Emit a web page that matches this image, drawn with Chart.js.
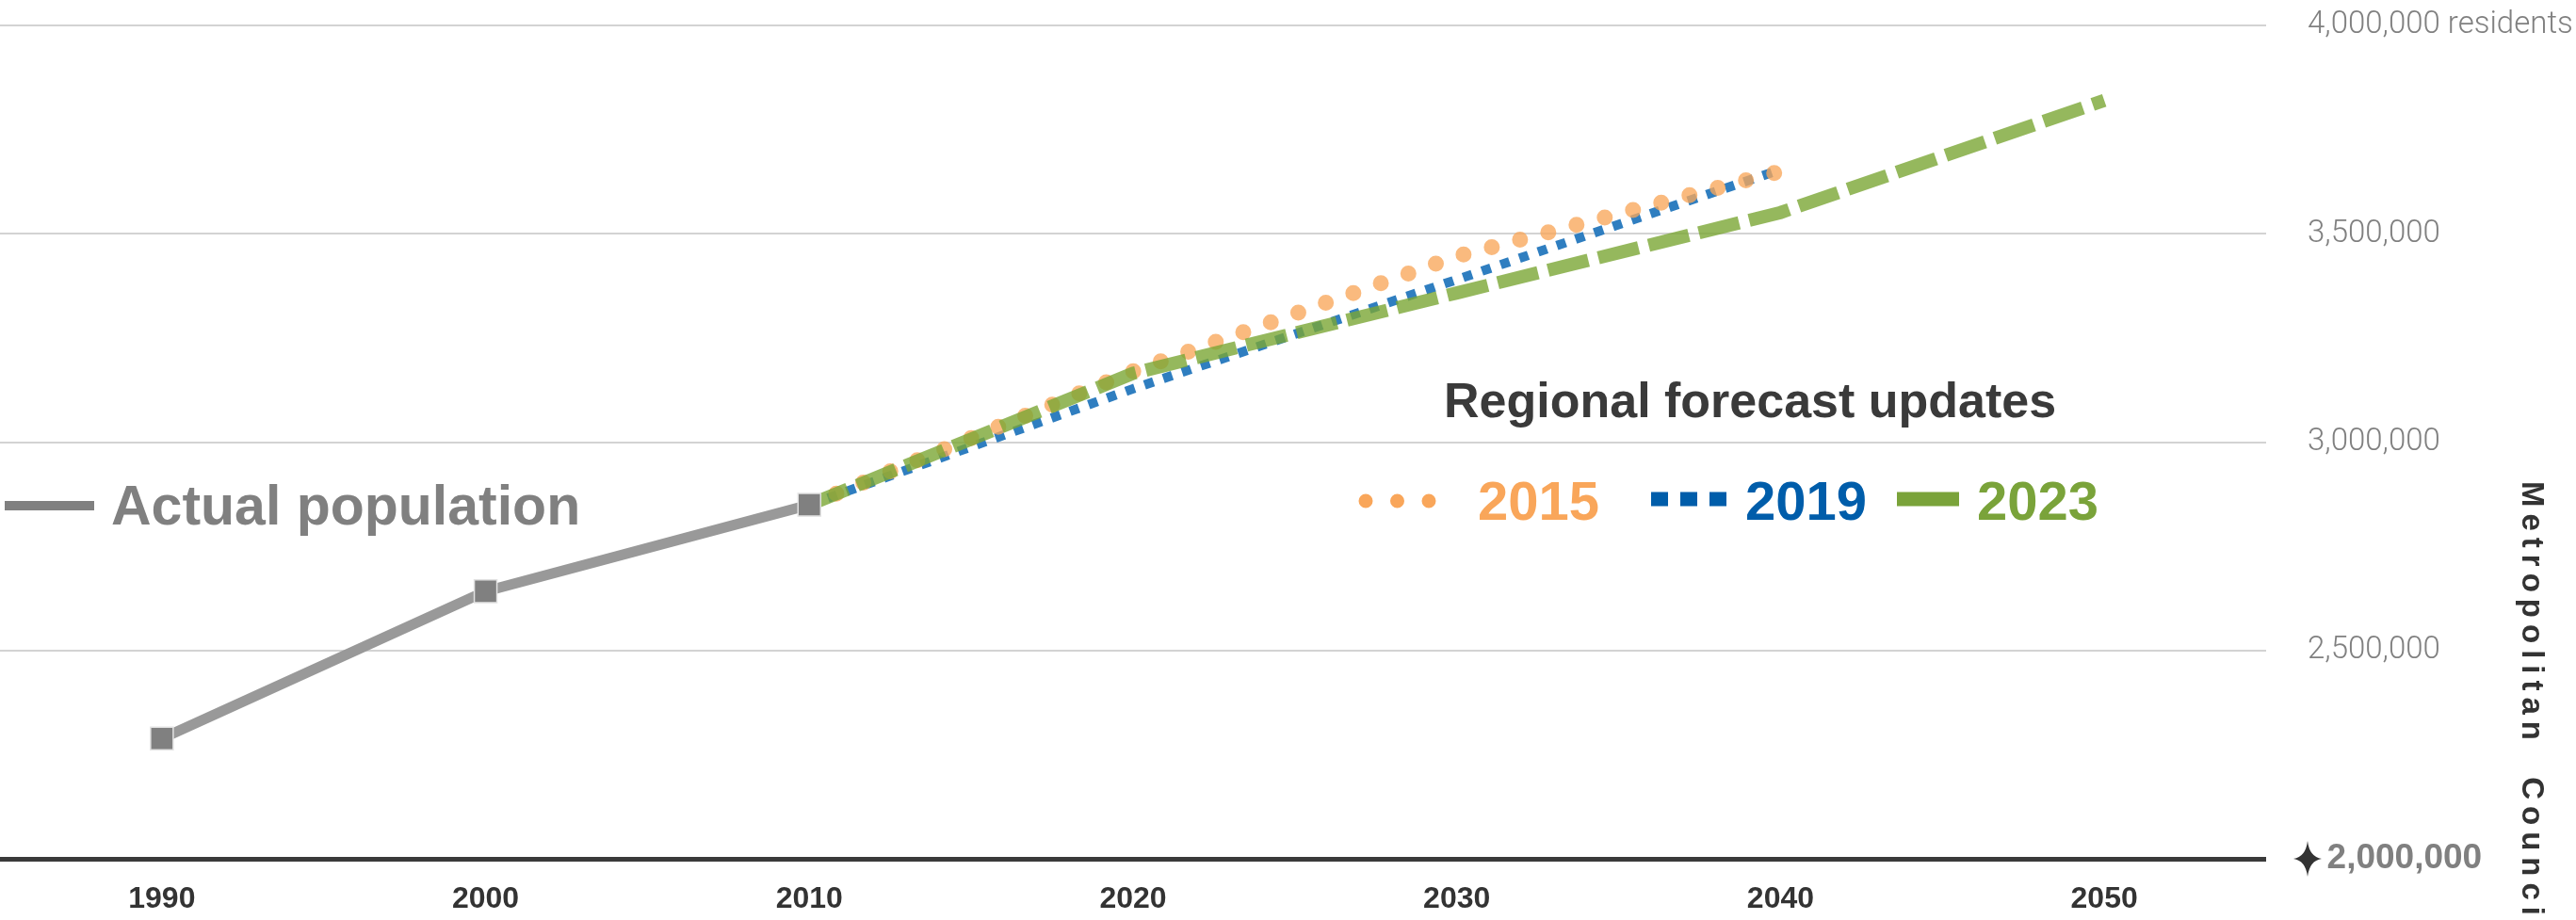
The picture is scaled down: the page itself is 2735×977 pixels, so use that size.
<!DOCTYPE html>
<html>
<head>
<meta charset="utf-8">
<title>Regional population forecasts</title>
<script src="https://cdn.jsdelivr.net/npm/chart.js@4.4.1/dist/chart.umd.min.js"></script>
<style>
  html, body { margin: 0; padding: 0; background: #fff; }
  #wrap { width: 2735px; height: 977px; }
</style>
</head>
<body>
<div id="wrap"><canvas id="popChart" width="2735" height="977"></canvas></div>
<script>
// actual population, 7-county region
const actualYears = [1990, 2000, 2010];
const actualPop = [2288721, 2642056, 2849567];

// forecasts, by the year the forecast was made
const forecastYears = [2010, 2020, 2030, 2040];
const forecast2015 = [2849567, 3170000, 3446000, 3650000];
const forecast2019 = [2849567, 3128000, 3390000, 3654000];
const forecast2023Years = [2010, 2020, 2030, 2040, 2050];
const forecast2023 = [2849567, 3165000, 3358000, 3551000, 3820000];

const forecastNames = ['2015', '2019', '2023'];
const xTicks = [1990, 2000, 2010, 2020, 2030, 2040, 2050];
const yTicks = [2000000, 2500000, 3000000, 3500000, 4000000];

const SANS = '"Liberation Sans", Arial, sans-serif';
const LIGHT = 'Roboto, "Liberation Sans", sans-serif';

const toPoints = (xs, ys) => xs.map((x, i) => ({ x: x, y: ys[i] }));

function sample(ctx, x1, x2, y, color, width, dash, cap) {
    ctx.beginPath();
    ctx.strokeStyle = color;
    ctx.lineWidth = width;
    ctx.setLineDash(dash);
    ctx.lineCap = cap;
    ctx.moveTo(x1, y);
    ctx.lineTo(x2, y);
    ctx.stroke();
}

// legends, headings, the star on the base line and the side credit
const overlay = {
    id: 'overlay',
    afterDraw(chart) {
        const ctx = chart.ctx;
        const yScale = chart.scales.y;
        ctx.save();

        // star in front of the 2,000,000 label
        const sx = yScale.left + 44;
        const sy = yScale.getPixelForValue(yTicks[0]);
        ctx.fillStyle = '#333';
        ctx.beginPath();
        ctx.moveTo(sx, sy - 19);
        ctx.quadraticCurveTo(sx + 2, sy - 2, sx + 15, sy);
        ctx.quadraticCurveTo(sx + 2, sy + 2, sx, sy + 19);
        ctx.quadraticCurveTo(sx - 2, sy + 2, sx - 15, sy);
        ctx.quadraticCurveTo(sx - 2, sy - 2, sx, sy - 19);
        ctx.fill();

        // actual population legend
        sample(ctx, 5, 100, 537, '#808080', 10, [], 'butt');
        ctx.setLineDash([]);
        ctx.font = 'bold 59px ' + SANS;
        ctx.fillStyle = '#808080';
        ctx.textBaseline = 'alphabetic';
        ctx.textAlign = 'left';
        ctx.fillText('Actual population', 118, 557);

        // forecast legend
        ctx.font = 'bold 52px ' + SANS;
        ctx.fillStyle = '#3a3a3a';
        ctx.fillText('Regional forecast updates', 1533, 443);

        sample(ctx, 1450, 1518, 532, '#F9A65A', 15, [0, 33.5], 'round');
        sample(ctx, 1753, 1833, 530, '#005DAA', 15, [18, 13], 'butt');
        sample(ctx, 2014, 2080, 530, '#7AA33A', 15, [], 'butt');
        ctx.setLineDash([]);
        ctx.font = 'bold 58px ' + SANS;
        ctx.fillStyle = '#F9A65A';
        ctx.fillText(forecastNames[0], 1569, 552);
        ctx.fillStyle = '#005DAA';
        ctx.fillText(forecastNames[1], 1853, 552);
        ctx.fillStyle = '#7AA33A';
        ctx.fillText(forecastNames[2], 2099, 552);

        // side credit
        ctx.translate(2678, 511);
        ctx.rotate(Math.PI / 2);
        ctx.font = 'bold 33px ' + SANS;
        ctx.fillStyle = '#333';
        ctx.letterSpacing = '7px';
        ctx.wordSpacing = '16px';
        ctx.fillText('Metropolitan Council', 0, 0);
        ctx.restore();
    }
};

const isBase = c => c.tick && c.tick.value === yTicks[0];

new Chart(document.getElementById('popChart').getContext('2d'), {
    type: 'line',
    data: {
        datasets: [
            {
                label: 'Actual population',
                data: toPoints(actualYears, actualPop),
                borderColor: '#999999',
                borderWidth: 11,
                pointStyle: 'rect',
                pointRadius: 17,
                pointBackgroundColor: '#808080',
                pointBorderColor: '#e2e2e2',
                pointBorderWidth: 1.5,
            },
            {
                label: forecastNames[2],
                data: toPoints(forecast2023Years, forecast2023),
                borderColor: 'rgba(122, 166, 53, 0.8)',
                borderWidth: 14,
                borderDash: [44, 11],
                pointRadius: 0,
            },
            {
                label: forecastNames[0],
                data: toPoints(forecastYears, forecast2015),
                borderColor: 'rgba(249, 166, 90, 0.78)',
                borderWidth: 17,
                borderDash: [0, 31],
                borderCapStyle: 'round',
                pointRadius: 0,
            },
            {
                label: forecastNames[1],
                data: toPoints(forecastYears, forecast2019),
                borderColor: '#2F7EC0',
                borderWidth: 10,
                borderDash: [10, 11],
                pointRadius: 0,
            },
        ],
    },
    options: {
        responsive: false,
        animation: false,
        devicePixelRatio: 1,
        layout: { autoPadding: false, padding: { top: 27, left: 0, right: 0, bottom: 0 } },
        plugins: {
            legend: { display: false },
            tooltip: { enabled: false },
        },
        scales: {
            x: {
                type: 'linear',
                min: 1985,
                max: 2055,
                afterBuildTicks: s => { s.ticks = xTicks.map(v => ({ value: v })); },
                afterFit: s => { s.height = 65; s.paddingLeft = 0; s.paddingRight = 0; },
                grid: { display: false },
                border: { display: false },
                ticks: {
                    padding: 16,
                    autoSkip: false,
                    maxRotation: 0,
                    color: '#333',
                    font: { family: SANS, size: 32, weight: 'bold' },
                    callback: v => String(v),
                },
            },
            y: {
                type: 'linear',
                position: 'right',
                min: 2000000,
                max: 4000000,
                afterBuildTicks: s => { s.ticks = yTicks.map(v => ({ value: v })); },
                afterFit: s => { s.width = 329; s.paddingTop = 0; s.paddingBottom = 0; },
                border: { display: false },
                grid: {
                    drawTicks: false,
                    color: c => isBase(c) ? '#3a3a3a' : '#d3d3d3',
                    lineWidth: c => isBase(c) ? 5 : 2,
                },
                ticks: {
                    padding: 44,
                    color: '#808080',
                    font: c => isBase(c)
                        ? { family: SANS, size: 37, weight: 'bold' }
                        : { family: LIGHT, size: 33, weight: '300' },
                    callback: v => {
                        const s = v.toLocaleString('en-US');
                        if (v === yTicks[0]) return '  ' + s;
                        if (v === yTicks[yTicks.length - 1]) return s + ' residents';
                        return s;
                    },
                },
            },
        },
    },
    plugins: [overlay],
});
</script>
</body>
</html>
